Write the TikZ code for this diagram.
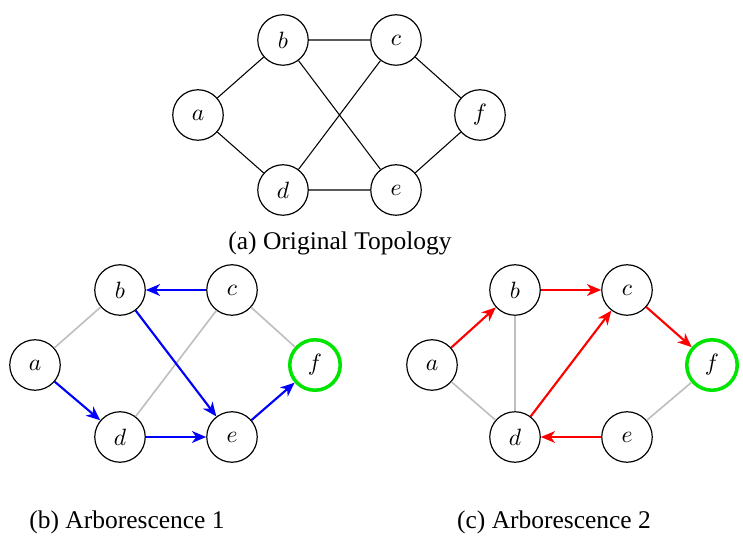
\documentclass[tikz,border=0pt]{standalone}
\usepackage{fontspec}
\newfontfamily\capfont{Liberation Serif}
\usetikzlibrary{arrows.meta}
\begin{document}
\begin{tikzpicture}[x=0.424pt,y=-0.424pt,
  vtx/.style={circle,draw,line width=0.5pt,minimum size=21.4pt,inner sep=0pt,font=\fontsize{10}{12}\selectfont},
  root/.style={vtx,draw=green!90!black,line width=1.5pt},
  plain/.style={line width=0.45pt},
  dim/.style={line width=0.7pt,draw=black!25},
  blu/.style={line width=0.9pt,draw=blue,-{Stealth[length=6pt,width=5pt,inset=1.8pt]}},
  rd/.style={line width=0.9pt,draw=red,-{Stealth[length=6pt,width=5pt,inset=1.8pt]}},
  captext/.style={font=\capfont\fontsize{10.8}{13}\selectfont}]
\useasboundingbox (0,0) rectangle (743,536);
% (a)
\node[vtx] (a1) at (198,115) {$a$};
\node[vtx] (b1) at (283,40) {$b$};
\node[vtx] (c1) at (396,40) {$c$};
\node[vtx] (d1) at (283,190) {$d$};
\node[vtx] (e1) at (396,190) {$e$};
\node[vtx] (f1) at (480,115) {$f$};
\draw[plain] (a1)--(b1) (a1)--(d1) (b1)--(c1) (b1)--(e1) (d1)--(c1) (d1)--(e1) (c1)--(f1) (e1)--(f1);
\node[captext] (capa) at (340,243) {(a) Original Topology};
% (b)
\node[vtx] (a2) at (35,365) {$a$};
\node[vtx] (b2) at (120,290) {$b$};
\node[vtx] (c2) at (232,290) {$c$};
\node[vtx] (d2) at (120,437) {$d$};
\node[vtx] (e2) at (232,437) {$e$};
\node[root] (f2) at (315,365) {$f$};
\draw[dim] (a2)--(b2) (d2)--(c2) (c2)--(f2);
\draw[blu] (c2)--(b2);
\draw[blu] (b2)--(e2);
\draw[blu] (a2)--(d2);
\draw[blu] (d2)--(e2);
\draw[blu] (e2)--(f2);
\node[captext] (capb) at (127,522) {(b) Arborescence 1};
% (c)
\node[vtx] (a3) at (432,365) {$a$};
\node[vtx] (b3) at (515,290) {$b$};
\node[vtx] (c3) at (627,290) {$c$};
\node[vtx] (d3) at (515,437) {$d$};
\node[vtx] (e3) at (627,437) {$e$};
\node[root] (f3) at (712,365) {$f$};
\draw[dim] (b3)--(d3) (a3)--(d3) (e3)--(f3);
\draw[rd] (a3)--(b3);
\draw[rd] (b3)--(c3);
\draw[rd] (d3)--(c3);
\draw[rd] (c3)--(f3);
\draw[rd] (e3)--(d3);
\node[captext] (capc) at (554,522) {(c) Arborescence 2};
\end{tikzpicture}
\end{document}
